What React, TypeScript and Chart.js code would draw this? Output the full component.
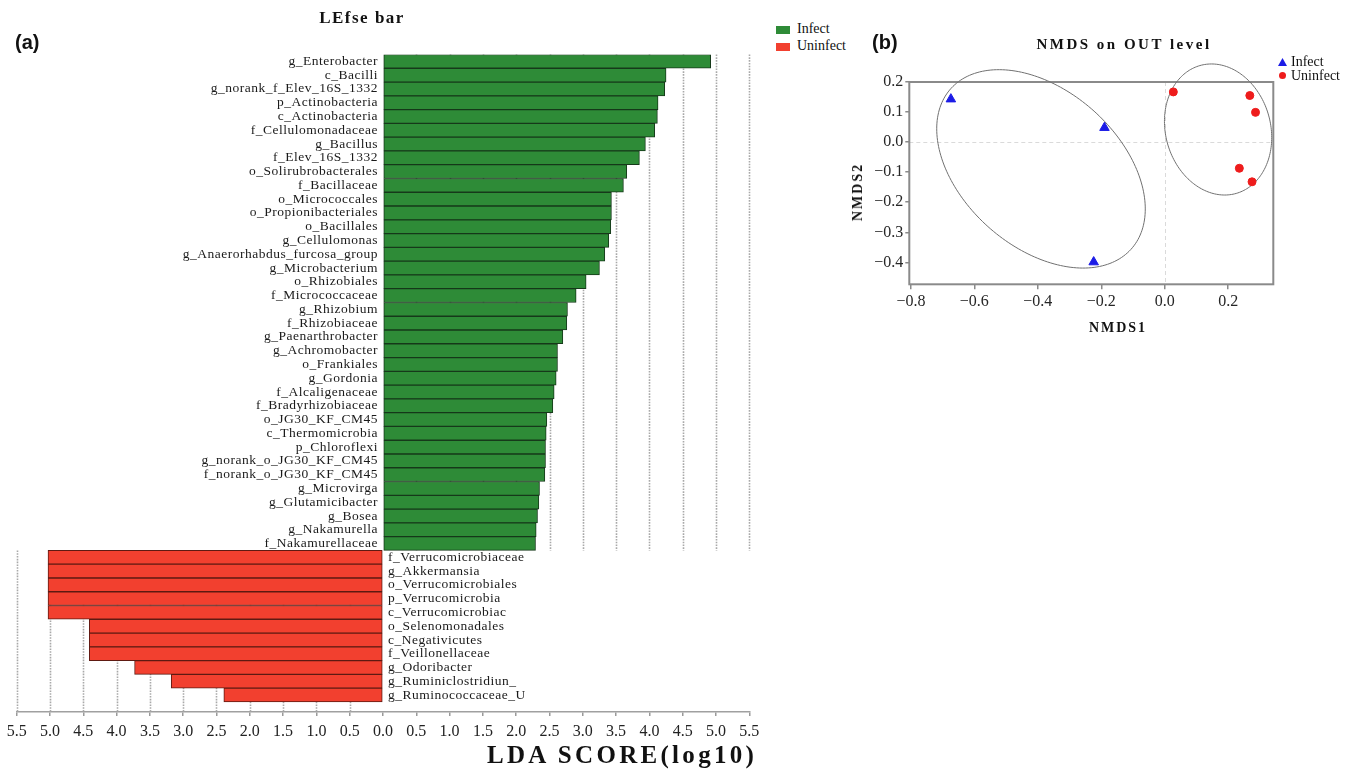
import React, { useEffect, useRef } from 'react';
import { Chart, registerables } from 'chart.js';

Chart.register(...registerables);

// ---------- Panel (a): LEfSe bar data ----------
const infectTaxa = [
  'g_Enterobacter', 'c_Bacilli', 'g_norank_f_Elev_16S_1332', 'p_Actinobacteria', 'c_Actinobacteria',
  'f_Cellulomonadaceae', 'g_Bacillus', 'f_Elev_16S_1332', 'o_Solirubrobacterales', 'f_Bacillaceae',
  'o_Micrococcales', 'o_Propionibacteriales', 'o_Bacillales', 'g_Cellulomonas', 'g_Anaerorhabdus_furcosa_group',
  'g_Microbacterium', 'o_Rhizobiales', 'f_Micrococcaceae', 'g_Rhizobium', 'f_Rhizobiaceae',
  'g_Paenarthrobacter', 'g_Achromobacter', 'o_Frankiales', 'g_Gordonia', 'f_Alcaligenaceae',
  'f_Bradyrhizobiaceae', 'o_JG30_KF_CM45', 'c_Thermomicrobia', 'p_Chloroflexi', 'g_norank_o_JG30_KF_CM45',
  'f_norank_o_JG30_KF_CM45', 'g_Microvirga', 'g_Glutamicibacter', 'g_Bosea', 'g_Nakamurella',
  'f_Nakamurellaceae',
];
const infectLDA = [
  4.92, 4.25, 4.23, 4.13, 4.12,
  4.08, 3.94, 3.85, 3.66, 3.61,
  3.43, 3.43, 3.42, 3.39, 3.33,
  3.25, 3.05, 2.90, 2.77, 2.76,
  2.70, 2.62, 2.62, 2.60, 2.57,
  2.55, 2.46, 2.45, 2.44, 2.44,
  2.43, 2.35, 2.34, 2.32, 2.30,
  2.29,
];
const uninfectTaxa = [
  'f_Verrucomicrobiaceae', 'g_Akkermansia', 'o_Verrucomicrobiales', 'p_Verrucomicrobia', 'c_Verrucomicrobiac',
  'o_Selenomonadales', 'c_Negativicutes', 'f_Veillonellaceae', 'g_Odoribacter', 'g_Ruminiclostridiun_',
  'g_Ruminococcaceae_U',
];
const uninfectLDA = [5.03, 5.03, 5.03, 5.03, 5.03, 4.41, 4.41, 4.41, 3.73, 3.18, 2.39];
const ldaTickValues = [-5.5, -5, -4.5, -4, -3.5, -3, -2.5, -2, -1.5, -1, -0.5, 0, 0.5, 1, 1.5, 2, 2.5, 3, 3.5, 4, 4.5, 5, 5.5];

// ---------- Panel (b): NMDS data ----------
const nmdsInfect = [
  { x: -0.674, y: 0.143 },
  { x: -0.19, y: 0.048 },
  { x: -0.224, y: -0.399 },
];
const nmdsUninfect = [
  { x: 0.027, y: 0.167 },
  { x: 0.268, y: 0.155 },
  { x: 0.286, y: 0.099 },
  { x: 0.235, y: -0.087 },
  { x: 0.275, y: -0.132 },
];
// group ellipses: centre, spread along x / y and correlation (data units)
const ellipseCenters = [{ x: -0.39, y: -0.089 }, { x: 0.168, y: 0.042 }];
const ellipseSpreadX = [0.3286, 0.169];
const ellipseSpreadY = [0.33, 0.218];
const ellipseCorr = [-0.404, -0.123];
const nmdsXTicks = [-0.8, -0.6, -0.4, -0.2, 0, 0.2];
const nmdsYTicks = [-0.4, -0.3, -0.2, -0.1, 0, 0.1, 0.2];

const SERIF = "'Liberation Serif', 'DejaVu Serif', 'Times New Roman', serif";
const SANS = "'Liberation Sans', Arial, sans-serif";
const GREEN = '#2e8b37';
const GREEN_BORDER = '#16391a';
const RED = '#f2402f';
const RED_BORDER = '#5e1a12';

const fmtSigned = (v: number) => {
  const s = Math.abs(v) < 1e-9 ? '0.0' : v.toFixed(1);
  return s.replace('-', '\u2212');
};

const lefsePlugin = {
  id: 'lefseDecor',
  beforeDatasetsDraw(chart: any) {
    const { ctx, chartArea, scales } = chart;
    const x = scales.x;
    const y = scales.y;
    const split = y.getPixelForValue(infectTaxa.length - 0.5);
    ctx.save();
    ctx.strokeStyle = '#a9a9a9';
    ctx.lineWidth = 1.6;
    ctx.setLineDash([1.6, 1.2]);
    for (const v of ldaTickValues) {
      if (v === 0) continue;
      const px = Math.round(x.getPixelForValue(v)) + 0.5;
      ctx.beginPath();
      if (v > 0) {
        ctx.moveTo(px, chartArea.top);
        ctx.lineTo(px, split);
      } else {
        ctx.moveTo(px, split);
        ctx.lineTo(px, chartArea.bottom);
      }
      ctx.stroke();
    }
    ctx.restore();
  },
  afterDatasetsDraw(chart: any) {
    const { ctx, scales } = chart;
    const x = scales.x;
    const y = scales.y;
    const zero = x.getPixelForValue(0);
    ctx.save();
    ctx.font = `13.5px ${SERIF}`;
    (ctx as any).letterSpacing = '0.5px';
    ctx.fillStyle = '#1a1a1a';
    ctx.textBaseline = 'middle';
    ctx.textAlign = 'right';
    infectTaxa.forEach((name, i) => {
      ctx.fillText(name, zero - 5, y.getPixelForValue(i));
    });
    ctx.textAlign = 'left';
    uninfectTaxa.forEach((name, i) => {
      ctx.fillText(name, zero + 5, y.getPixelForValue(infectTaxa.length + i));
    });
    ctx.restore();
  },
};

const nmdsPlugin = {
  id: 'nmdsDecor',
  beforeDatasetsDraw(chart: any) {
    const { ctx, chartArea, scales } = chart;
    const x = scales.x;
    const y = scales.y;
    ctx.save();
    // dashed origin lines
    ctx.strokeStyle = '#dadada';
    ctx.lineWidth = 1;
    ctx.setLineDash([4, 3]);
    const x0 = Math.round(x.getPixelForValue(0)) + 0.5;
    const y0 = Math.round(y.getPixelForValue(0)) + 0.5;
    ctx.beginPath();
    ctx.moveTo(x0, chartArea.top);
    ctx.lineTo(x0, chartArea.bottom);
    ctx.moveTo(chartArea.left, y0);
    ctx.lineTo(chartArea.right, y0);
    ctx.stroke();
    ctx.setLineDash([]);
    // frame
    ctx.strokeStyle = '#8a8a8a';
    ctx.lineWidth = 2;
    ctx.strokeRect(chartArea.left, chartArea.top, chartArea.right - chartArea.left, chartArea.bottom - chartArea.top);
    // ellipses
    ctx.strokeStyle = '#707070';
    ctx.lineWidth = 1;
    ellipseCenters.forEach((c, k) => {
      const sx = ellipseSpreadX[k];
      const sy = ellipseSpreadY[k];
      const r = ellipseCorr[k];
      const q = Math.sqrt(1 - r * r);
      ctx.beginPath();
      const n = 200;
      for (let j = 0; j <= n; j++) {
        const t = (j / n) * Math.PI * 2;
        const dx = sx * Math.cos(t);
        const dy = sy * (r * Math.cos(t) + q * Math.sin(t));
        const px = x.getPixelForValue(c.x + dx);
        const py = y.getPixelForValue(c.y + dy);
        if (j === 0) ctx.moveTo(px, py);
        else ctx.lineTo(px, py);
      }
      ctx.closePath();
      ctx.stroke();
    });
    ctx.restore();
  },
};

function LefseChart() {
  const ref = useRef<HTMLCanvasElement | null>(null);
  useEffect(() => {
    if (!ref.current) return;
    const indices = [...infectTaxa, ...uninfectTaxa].map((_, i) => i);
    const chart = new Chart(ref.current, {
      type: 'bar',
      data: {
        datasets: [
          {
            label: 'Infect',
            data: infectLDA.map((v, i) => ({ x: v, y: i })),
            backgroundColor: GREEN,
            borderColor: GREEN_BORDER,
            borderWidth: 1,
            borderSkipped: false,
            grouped: false,
            barPercentage: 1,
            categoryPercentage: 1,
          } as any,
          {
            label: 'Uninfect',
            data: uninfectLDA.map((v, i) => ({ x: -v, y: infectTaxa.length + i })),
            backgroundColor: RED,
            borderColor: RED_BORDER,
            borderWidth: 1,
            borderSkipped: false,
            grouped: false,
            barPercentage: 1,
            categoryPercentage: 1,
          } as any,
        ],
      },
      options: {
        indexAxis: 'y',
        animation: false,
        responsive: false,
        maintainAspectRatio: false,
        layout: { padding: { left: 16.7, right: 20.7, top: 54.5, bottom: 27 } },
        plugins: { legend: { display: false }, tooltip: { enabled: false }, title: { display: false } },
        scales: {
          x: {
            type: 'linear',
            min: -5.5,
            max: 5.5,
            afterBuildTicks: (s: any) => {
              s.ticks = ldaTickValues.map((v) => ({ value: v }));
            },
            afterFit: (s: any) => {
              s.height = 30;
            },
            ticks: {
              autoSkip: false,
              maxRotation: 0,
              padding: 6,
              color: '#222',
              font: { family: SERIF, size: 16 },
              callback: (v: any) => Math.abs(Number(v)).toFixed(1),
            },
            grid: { drawOnChartArea: false, drawTicks: true, tickLength: 4, color: '#9a9a9a', lineWidth: 1.5 },
            border: { display: true, color: '#a0a0a0', width: 1.5 },
          },
          y: {
            type: 'linear',
            reverse: true,
            offset: false,
            min: -0.5,
            max: 47.23,
            display: false,
            afterBuildTicks: (s: any) => {
              s.ticks = indices.map((v) => ({ value: v }));
            },
          },
        },
      } as any,
      plugins: [lefsePlugin],
    });
    return () => chart.destroy();
  }, []);
  return <canvas ref={ref} width={770} height={769} style={{ position: 'absolute', left: 0, top: 0 }} />;
}

function NmdsChart() {
  const ref = useRef<HTMLCanvasElement | null>(null);
  useEffect(() => {
    if (!ref.current) return;
    const tickCfg = {
      color: '#262626',
      font: { family: SERIF, size: 16 },
      callback: (v: any) => fmtSigned(Number(v)),
      autoSkip: false,
      maxRotation: 0,
    };
    const chart = new Chart(ref.current, {
      type: 'scatter',
      data: {
        datasets: [
          {
            label: 'Infect',
            data: nmdsInfect,
            pointStyle: 'triangle',
            pointRadius: 5.5,
            backgroundColor: '#1c1ce6',
            borderColor: '#1c1ce6',
            borderWidth: 1,
          },
          {
            label: 'Uninfect',
            data: nmdsUninfect,
            pointStyle: 'circle',
            pointRadius: 4,
            backgroundColor: '#ee1c1c',
            borderColor: '#ee1c1c',
            borderWidth: 1,
          },
        ],
      },
      options: {
        animation: false,
        responsive: false,
        maintainAspectRatio: false,
        layout: { padding: { left: 9.3, right: 80.7, top: 82, bottom: 45.7 } },
        plugins: { legend: { display: false }, tooltip: { enabled: false } },
        scales: {
          x: {
            type: 'linear',
            min: -0.805,
            max: 0.342,
            afterBuildTicks: (s: any) => {
              s.ticks = nmdsXTicks.map((v) => ({ value: v }));
            },
            afterFit: (s: any) => {
              s.height = 30;
            },
            ticks: { ...tickCfg, padding: 3 },
            grid: { drawOnChartArea: false, drawTicks: true, tickLength: 5, color: '#8a8a8a', lineWidth: 1.5 },
            border: { display: false },
          },
          y: {
            type: 'linear',
            min: -0.473,
            max: 0.2,
            afterBuildTicks: (s: any) => {
              s.ticks = nmdsYTicks.map((v) => ({ value: v }));
            },
            afterFit: (s: any) => {
              s.width = 50;
            },
            ticks: { ...tickCfg, padding: 2 },
            grid: { drawOnChartArea: false, drawTicks: true, tickLength: 4, color: '#8a8a8a', lineWidth: 1.5 },
            border: { display: false },
          },
        },
      } as any,
      plugins: [nmdsPlugin],
    });
    return () => chart.destroy();
  }, []);
  return <canvas ref={ref} width={504} height={360} style={{ position: 'absolute', left: 850, top: 0 }} />;
}

const abs = (left: number, top: number, extra: React.CSSProperties = {}): React.CSSProperties => ({
  position: 'absolute',
  left,
  top,
  whiteSpace: 'nowrap',
  lineHeight: 1,
  color: '#111',
  ...extra,
});

export default function App() {
  return (
    <div style={{ position: 'absolute', left: 0, top: 0, width: 1354, height: 769, background: '#fff', overflow: 'hidden' }}>
      <LefseChart />
      <NmdsChart />

      {/* Panel (a) texts */}
      <div style={abs(15, 42, { transform: 'translateY(-50%)', font: `bold 20px ${SANS}` })}>(a)</div>
      <div style={abs(362, 18, { transform: 'translate(-50%,-50%)', font: `bold 17px ${SERIF}`, letterSpacing: '1.5px' })}>LEfse bar</div>
      <div style={abs(776, 26, { width: 14, height: 8, background: GREEN })} />
      <div style={abs(797, 29, { transform: 'translateY(-50%)', font: `14px ${SERIF}` })}>Infect</div>
      <div style={abs(776, 43, { width: 14, height: 8, background: RED })} />
      <div style={abs(797, 46, { transform: 'translateY(-50%)', font: `14px ${SERIF}` })}>Uninfect</div>
      <div style={abs(487, 755, { transform: 'translateY(-50%)', font: `bold 25px ${SERIF}`, letterSpacing: '3.3px' })}>LDA SCORE(log10)</div>

      {/* Panel (b) texts */}
      <div style={abs(872, 42, { transform: 'translateY(-50%)', font: `bold 20px ${SANS}` })}>(b)</div>
      <div style={abs(1124, 44, { transform: 'translate(-50%,-50%)', font: `bold 15px ${SERIF}`, letterSpacing: '2.5px' })}>NMDS on OUT level</div>
      <div style={abs(1278, 58, { width: 9, height: 8, background: '#1c1ce6', clipPath: 'polygon(50% 0, 100% 100%, 0 100%)' })} />
      <div style={abs(1291, 62, { transform: 'translateY(-50%)', font: `14px ${SERIF}` })}>Infect</div>
      <div style={abs(1279, 72, { width: 7, height: 7, borderRadius: '50%', background: '#ee1c1c' })} />
      <div style={abs(1291, 76, { transform: 'translateY(-50%)', font: `14px ${SERIF}` })}>Uninfect</div>
      <div style={abs(1118, 328, { transform: 'translate(-50%,-50%)', font: `bold 14px ${SERIF}`, letterSpacing: '2px' })}>NMDS1</div>
      <div style={abs(858, 192, { transform: 'translate(-50%,-50%) rotate(-90deg)', font: `bold 14px ${SERIF}`, letterSpacing: '2px' })}>NMDS2</div>
    </div>
  );
}
